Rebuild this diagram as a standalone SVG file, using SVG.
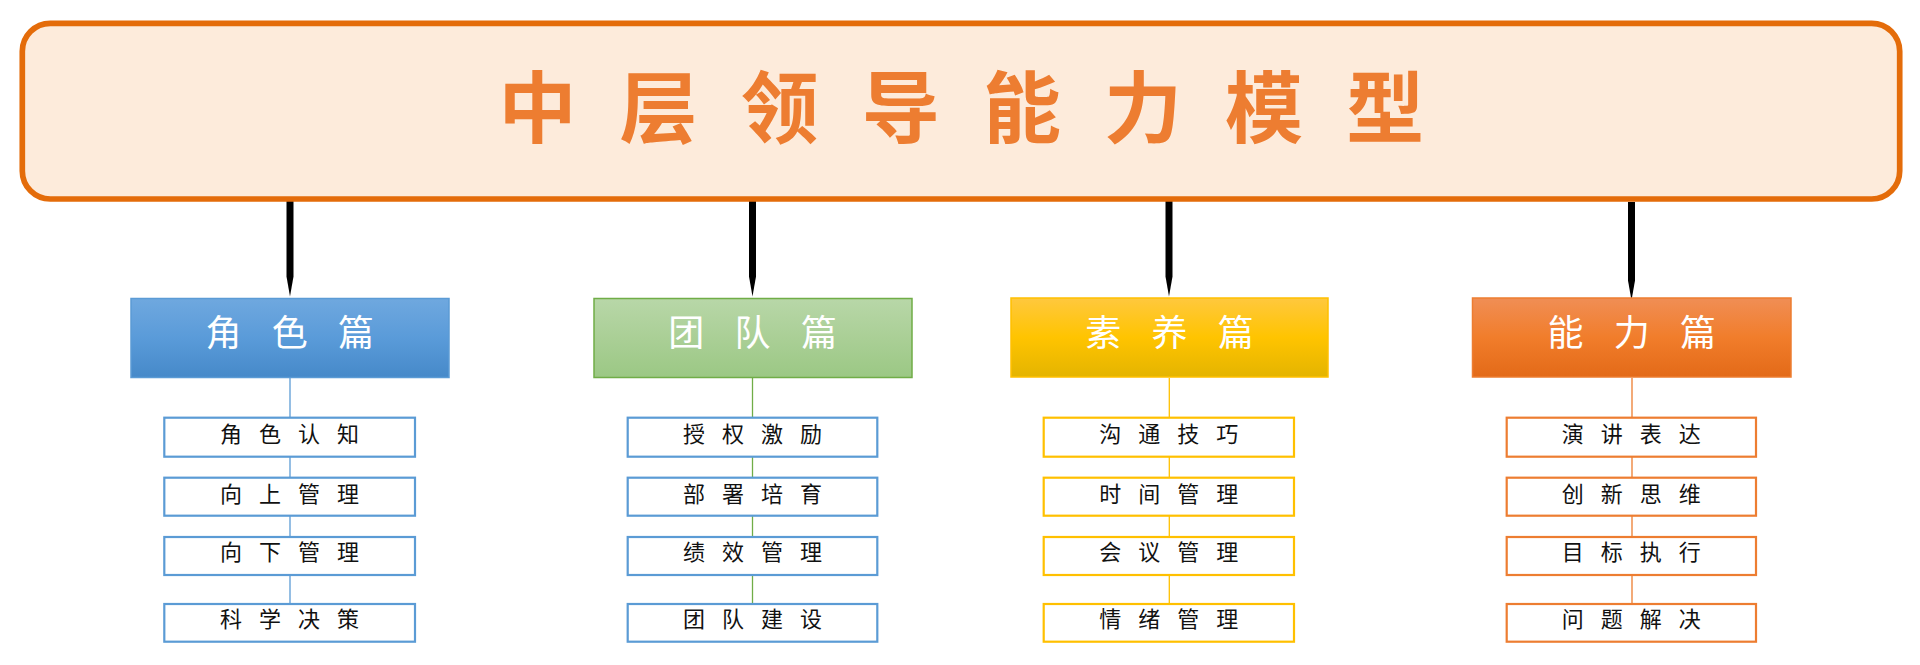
<svg xmlns="http://www.w3.org/2000/svg" width="1920" height="665" viewBox="0 0 1920 665">
  <defs>
    <linearGradient id="gBlue" x1="0" y1="0" x2="0" y2="1">
      <stop offset="0" stop-color="#6FA8DF"/>
      <stop offset="0.5" stop-color="#5A9BD9"/>
      <stop offset="1" stop-color="#4689C9"/>
    </linearGradient>
    <linearGradient id="gGreen" x1="0" y1="0" x2="0" y2="1">
      <stop offset="0" stop-color="#B8D7A8"/>
      <stop offset="0.5" stop-color="#AACF96"/>
      <stop offset="1" stop-color="#9BC884"/>
    </linearGradient>
    <linearGradient id="gGold" x1="0" y1="0" x2="0" y2="1">
      <stop offset="0" stop-color="#FFC83E"/>
      <stop offset="0.5" stop-color="#FFC400"/>
      <stop offset="1" stop-color="#E4B400"/>
    </linearGradient>
    <linearGradient id="gOrange" x1="0" y1="0" x2="0" y2="1">
      <stop offset="0" stop-color="#F08E55"/>
      <stop offset="0.5" stop-color="#F17D2B"/>
      <stop offset="1" stop-color="#E36A18"/>
    </linearGradient>
    <marker id="tip" markerUnits="userSpaceOnUse" orient="auto" markerWidth="21" markerHeight="8" viewBox="0 -4 21 8" refX="0.5" refY="0">
      <path d="M0,-3.5 L20,0 L0,3.5 Z" fill="#000"/>
    </marker>
    <style>
      .cjk { font-family: "Noto Sans CJK SC", "Noto Sans", sans-serif; }
      .title { font-size: 78px; font-weight: 700; fill: #ED7D31; text-anchor: middle; dominant-baseline: central; }
      .cat { font-size: 36px; fill: #FFFFFF; text-anchor: middle; dominant-baseline: central; }
      .sub { font-size: 22px; fill: #111111; text-anchor: middle; dominant-baseline: central; }
      .subbox { fill: #FFFFFF; stroke-width: 2.2; }
      .catbox { stroke-width: 1.5; }
      .thick { stroke: #000; stroke-width: 7; fill: none; marker-end: url(#tip); }
      .thin { stroke-width: 1.3; fill: none; }
    </style>
  </defs>
  <rect width="1920" height="665" fill="#FFFFFF"/>

  <g id="connectors">
    <line class="thick" x1="290" y1="199" x2="290" y2="277"/>
    <line class="thick" x1="752.5" y1="199" x2="752.5" y2="277"/>
    <line class="thick" x1="1169" y1="199" x2="1169" y2="277"/>
    <line class="thick" x1="1631.5" y1="202" x2="1631.5" y2="281"/>
    <line class="thin" stroke="#5B9BD5" x1="290" y1="378" x2="290" y2="604"/>
    <line class="thin" stroke="#70AD47" x1="752.5" y1="378" x2="752.5" y2="604"/>
    <line class="thin" stroke="#FFC000" x1="1169.3" y1="378" x2="1169.3" y2="604"/>
    <line class="thin" stroke="#ED7D31" x1="1632" y1="378" x2="1632" y2="604"/>
  </g>

  <g id="title">
    <rect x="22.3" y="23.3" width="1877.4" height="175.7" rx="28" ry="28" fill="#FDEBDB" stroke="#E46C0A" stroke-width="5.7"/>
    <text class="cjk title" x="537.5 658.6 779.7 900.8 1021.9 1143 1264.1 1385.2" y="103">中层领导能力模型</text>
  </g>

  <g id="cat-role">
    <rect class="catbox" x="131" y="298.5" width="318" height="79" fill="url(#gBlue)" stroke="#5B9BD5"/>
    <text class="cjk cat" x="223.5 289.8 356.1" y="329.5">角色篇</text>
  </g>
  <g id="cat-team">
    <rect class="catbox" x="594" y="298.5" width="318" height="79" fill="url(#gGreen)" stroke="#70AD47"/>
    <text class="cjk cat" x="686.3 752.6 818.9" y="329.5">团队篇</text>
  </g>
  <g id="cat-quality">
    <rect class="catbox" x="1011" y="298" width="317" height="79" fill="url(#gGold)" stroke="#FFC000"/>
    <text class="cjk cat" x="1103.2 1169.5 1235.8" y="329.5">素养篇</text>
  </g>
  <g id="cat-ability">
    <rect class="catbox" x="1472.5" y="298" width="318.5" height="79" fill="url(#gOrange)" stroke="#ED7D31"/>
    <text class="cjk cat" x="1565.5 1631.8 1698.1" y="329.5">能力篇</text>
  </g>

  <g id="role-1"><rect class="subbox" stroke="#5B9BD5" x="164.3" y="417.7" width="250.7" height="39"/><text class="cjk sub" x="231 270 309 348" y="432">角色认知</text></g>
  <g id="role-2"><rect class="subbox" stroke="#5B9BD5" x="164.3" y="477.7" width="250.7" height="38"/><text class="cjk sub" x="231 270 309 348" y="491.5">向上管理</text></g>
  <g id="role-3"><rect class="subbox" stroke="#5B9BD5" x="164.3" y="537" width="250.7" height="38"/><text class="cjk sub" x="231 270 309 348" y="550">向下管理</text></g>
  <g id="role-4"><rect class="subbox" stroke="#5B9BD5" x="164.3" y="604" width="250.7" height="37.7"/><text class="cjk sub" x="231 270 309 348" y="617">科学决策</text></g>

  <g id="team-1"><rect class="subbox" stroke="#5B9BD5" x="627.7" y="417.7" width="249.6" height="39"/><text class="cjk sub" x="694 733 772 811" y="432">授权激励</text></g>
  <g id="team-2"><rect class="subbox" stroke="#5B9BD5" x="627.7" y="477.7" width="249.6" height="38"/><text class="cjk sub" x="694 733 772 811" y="491.5">部署培育</text></g>
  <g id="team-3"><rect class="subbox" stroke="#5B9BD5" x="627.7" y="537" width="249.6" height="38"/><text class="cjk sub" x="694 733 772 811" y="550">绩效管理</text></g>
  <g id="team-4"><rect class="subbox" stroke="#5B9BD5" x="627.7" y="604" width="249.6" height="37.7"/><text class="cjk sub" x="694 733 772 811" y="617">团队建设</text></g>

  <g id="quality-1"><rect class="subbox" stroke="#FFC000" x="1043.7" y="417.7" width="250.3" height="39"/><text class="cjk sub" x="1110.3 1149.3 1188.3 1227.3" y="432">沟通技巧</text></g>
  <g id="quality-2"><rect class="subbox" stroke="#FFC000" x="1043.7" y="477.7" width="250.3" height="38"/><text class="cjk sub" x="1110.3 1149.3 1188.3 1227.3" y="491.5">时间管理</text></g>
  <g id="quality-3"><rect class="subbox" stroke="#FFC000" x="1043.7" y="537" width="250.3" height="38"/><text class="cjk sub" x="1110.3 1149.3 1188.3 1227.3" y="550">会议管理</text></g>
  <g id="quality-4"><rect class="subbox" stroke="#FFC000" x="1043.7" y="604" width="250.3" height="37.7"/><text class="cjk sub" x="1110.3 1149.3 1188.3 1227.3" y="617">情绪管理</text></g>

  <g id="ability-1"><rect class="subbox" stroke="#ED7D31" x="1506.7" y="417.7" width="249.3" height="39"/><text class="cjk sub" x="1572.8 1611.8 1650.8 1689.8" y="432">演讲表达</text></g>
  <g id="ability-2"><rect class="subbox" stroke="#ED7D31" x="1506.7" y="477.7" width="249.3" height="38"/><text class="cjk sub" x="1572.8 1611.8 1650.8 1689.8" y="491.5">创新思维</text></g>
  <g id="ability-3"><rect class="subbox" stroke="#ED7D31" x="1506.7" y="537" width="249.3" height="38"/><text class="cjk sub" x="1572.8 1611.8 1650.8 1689.8" y="550">目标执行</text></g>
  <g id="ability-4"><rect class="subbox" stroke="#ED7D31" x="1506.7" y="604" width="249.3" height="37.7"/><text class="cjk sub" x="1572.8 1611.8 1650.8 1689.8" y="617">问题解决</text></g>
</svg>
